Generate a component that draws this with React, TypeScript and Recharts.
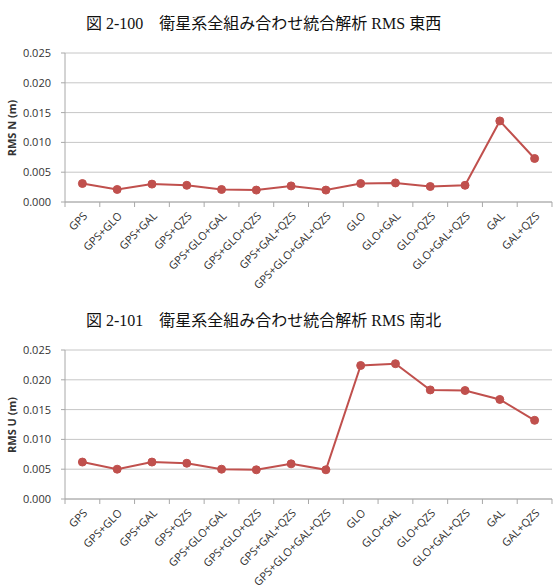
import { CartesianGrid, Line, LineChart, XAxis, YAxis } from "recharts";

// satellite system combinations (x categories)
const combos = [
  "GPS",
  "GPS+GLO",
  "GPS+GAL",
  "GPS+QZS",
  "GPS+GLO+GAL",
  "GPS+GLO+QZS",
  "GPS+GAL+QZS",
  "GPS+GLO+GAL+QZS",
  "GLO",
  "GLO+GAL",
  "GLO+QZS",
  "GLO+GAL+QZS",
  "GAL",
  "GAL+QZS",
];

// RMS values (m)
const rmsEastWest = [0.0031, 0.0021, 0.003, 0.0028, 0.0021, 0.002, 0.0027, 0.002, 0.0031, 0.0032, 0.0026, 0.0028, 0.0136, 0.0073];
const rmsNorthSouth = [0.0062, 0.005, 0.0062, 0.006, 0.005, 0.0049, 0.0059, 0.0049, 0.0224, 0.0227, 0.0183, 0.0182, 0.0167, 0.0132];

const yTicks = [0, 0.005, 0.01, 0.015, 0.02, 0.025];

const titles = ["図 2-100　衛星系全組み合わせ統合解析 RMS 東西", "図 2-101　衛星系全組み合わせ統合解析 RMS 南北"];
const yLabels = ["RMS N (m)", "RMS U (m)"];

const W = 560;
const Y_AXIS_W = 65;
const RIGHT = 8;
const PLOT_W = W - Y_AXIS_W - RIGHT;
const BAND = PLOT_W / combos.length;
const TICK_SIZE = 5;
const TICK_MARGIN = 3;

const LINE_COLOR = "#C0504D";
const GRID_COLOR = "#C6C6C6";
const AXIS_COLOR = "#A8A8A8";
const FONT = "'Open Sans', 'Noto Sans', sans-serif";

function CategoryTick(props: any) {
  const { x, y, payload, index } = props;
  const top = -(TICK_SIZE + TICK_MARGIN);
  return (
    <g transform={`translate(${x},${y})`}>
      <line x1={-BAND / 2} x2={-BAND / 2} y1={top} y2={top + TICK_SIZE} stroke={AXIS_COLOR} />
      {index === combos.length - 1 && (
        <line x1={BAND / 2} x2={BAND / 2} y1={top} y2={top + TICK_SIZE} stroke={AXIS_COLOR} />
      )}
      <text
        x={3}
        y={4}
        dy="0.35em"
        textAnchor="end"
        transform="rotate(-45 3 4)"
        fontSize={11}
        fontFamily={FONT}
        fill="#333"
      >
        {payload.value}
      </text>
    </g>
  );
}

function RmsChart({ values, top, height, title, yLabel }: any) {
  const data = combos.map((name, i) => ({ name, rms: values[i] }));
  return (
    <div style={{ position: "absolute", left: 0, top, width: W, height }}>
      <div
        style={{
          position: "absolute",
          left: 86,
          top: 14,
          fontSize: 16,
          lineHeight: "20px",
          fontFamily: "'Liberation Serif', 'Noto Sans CJK JP', serif",
          color: "#111",
          whiteSpace: "pre",
        }}
      >
        {title}
      </div>
      <div
        style={{
          position: "absolute",
          left: 11,
          top: 128,
          transform: "translate(-50%, -50%) rotate(-90deg)",
          fontSize: 11,
          fontWeight: "bold",
          fontFamily: FONT,
          color: "#333",
          whiteSpace: "nowrap",
        }}
      >
        {yLabel}
      </div>
      <LineChart width={W} height={height} data={data} margin={{ top: 53, right: RIGHT, bottom: 0, left: 0 }}>
        <CartesianGrid vertical={false} stroke={GRID_COLOR} yAxisId="l" />
        <XAxis
          dataKey="name"
          interval={0}
          height={height - 53 - 149}
          padding={{ left: BAND / 2, right: BAND / 2 }}
          tick={<CategoryTick />}
          tickLine={false}
          tickSize={TICK_SIZE}
          tickMargin={TICK_MARGIN}
          stroke={AXIS_COLOR}
        />
        <YAxis
          yAxisId="l"
          width={Y_AXIS_W}
          domain={[0, 0.025]}
          ticks={yTicks}
          tickFormatter={(v: number) => v.toFixed(3)}
          tickSize={4}
          tickMargin={10}
          stroke={AXIS_COLOR}
          tick={{ fontSize: 11, fontFamily: FONT, fill: "#333" }}
        />
        <YAxis yAxisId="r" orientation="right" width={0} tick={false} domain={[0, 0.025]} stroke={GRID_COLOR} />
        <Line
          yAxisId="l"
          dataKey="rms"
          stroke={LINE_COLOR}
          strokeWidth={2}
          dot={{ r: 4, fill: LINE_COLOR, stroke: LINE_COLOR, strokeWidth: 1 }}
          isAnimationActive={false}
        />
      </LineChart>
    </div>
  );
}

export default function App() {
  return (
    <div style={{ position: "absolute", left: 0, top: 0, width: W, height: 587, background: "#fff" }}>
      <RmsChart values={rmsEastWest} top={0} height={297} title={titles[0]} yLabel={yLabels[0]} />
      <RmsChart values={rmsNorthSouth} top={297} height={290} title={titles[1]} yLabel={yLabels[1]} />
    </div>
  );
}
